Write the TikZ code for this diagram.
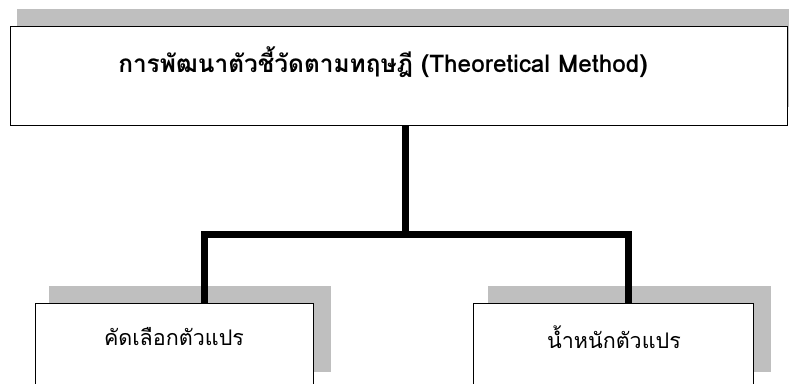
\documentclass[tikz,border=0pt]{standalone}
\usepackage{fontspec}
\newfontfamily\thaifont[Script=Thai]{Loma}
\begin{document}
\begin{tikzpicture}[x=1pt,y=1pt,
  shadowbox/.style={fill=black!25,draw=none},
  box/.style={draw=black,line width=1.3pt,fill=white,anchor=north west,inner sep=0pt},
  conn/.style={line width=7pt,line join=miter,line cap=butt},
  lbl/.style={font=\thaifont\fontsize{21.5}{25}\selectfont,inner sep=0pt}]
\useasboundingbox (0,0) rectangle (789,383);
\clip (0,0) rectangle (789,383);
% shadows
\fill[shadowbox] (17,374) rectangle (800,276);
\fill[shadowbox] (49,97) rectangle (331,11);
\fill[shadowbox] (488,97) rectangle (771,11);
% boxes
\node[box,minimum width=777pt,minimum height=99pt] (top) at (10,357) {};
\node[box,minimum width=278pt,minimum height=120pt] (left) at (35,80) {};
\node[box,minimum width=280pt,minimum height=120pt] (right) at (473,80) {};
% texts
\node[lbl,font=\thaifont\bfseries\fontsize{24.4}{28}\selectfont] (ttop) at (383,321) {การพัฒนาตัวชี้วัดตามทฤษฎี (Theoretical Method)};
\node[lbl] (tleft) at (174,46) {คัดเลือกตัวแปร};
\node[lbl] (tright) at (614,46) {น้ำหนักตัวแปร};
% connectors
\coordinate (hub) at (405,148);
\coordinate (cl) at (204,80);
\coordinate (cr) at (628,80);
\draw[conn] (top.south -| hub) -- (hub);
\draw[conn] (cl) |- (hub) -| (cr);
\end{tikzpicture}
\end{document}
